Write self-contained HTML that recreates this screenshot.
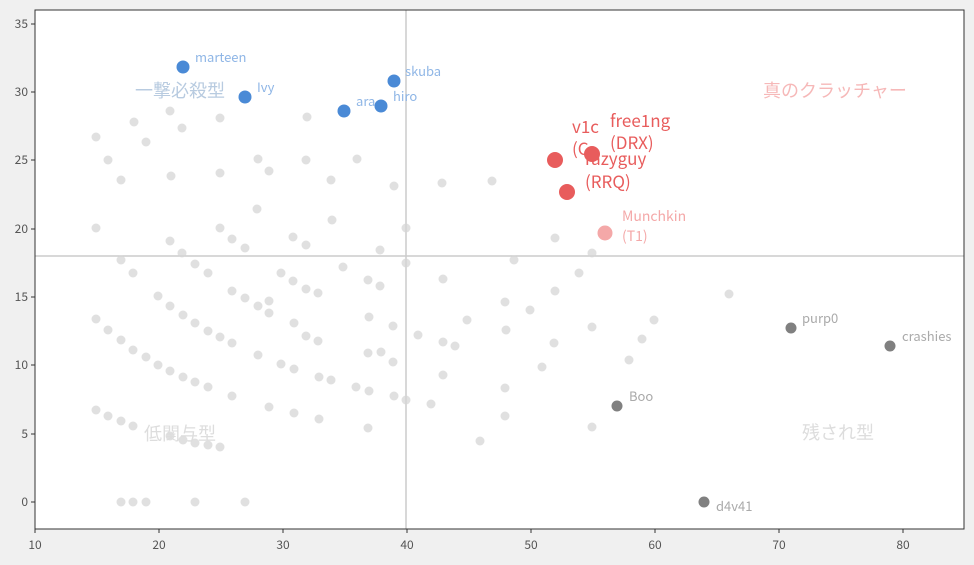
<!DOCTYPE html>
<html><head><meta charset="utf-8"><style>
body{margin:0;background:#f0f0f0;}
svg{display:block;font-family:"Noto Sans CJK JP","Liberation Sans",sans-serif;}
</style></head><body>
<svg width="974" height="565" viewBox="0 0 974 565">
<rect x="0" y="0" width="974" height="565" fill="#f0f0f0"/>
<rect x="35" y="10" width="929" height="519" fill="#fff"/>
<line x1="406" y1="10" x2="406" y2="529" stroke="#ccc" stroke-width="1.5"/>
<line x1="35" y1="256" x2="964" y2="256" stroke="#ccc" stroke-width="1.5"/>
<g fill="#d6d6d6" opacity="0.75">
<circle cx="96" cy="137" r="4.5"/><circle cx="134" cy="122" r="4.5"/><circle cx="146" cy="142" r="4.5"/><circle cx="170" cy="111" r="4.5"/><circle cx="182" cy="128" r="4.5"/><circle cx="220" cy="118" r="4.5"/><circle cx="307" cy="117" r="4.5"/><circle cx="108" cy="160" r="4.5"/><circle cx="121" cy="180" r="4.5"/><circle cx="171" cy="176" r="4.5"/><circle cx="220" cy="173" r="4.5"/><circle cx="306" cy="160" r="4.5"/><circle cx="258" cy="159" r="4.5"/><circle cx="269" cy="171" r="4.5"/><circle cx="331" cy="180" r="4.5"/><circle cx="357" cy="159" r="4.5"/><circle cx="394" cy="186" r="4.5"/><circle cx="442" cy="183" r="4.5"/><circle cx="492" cy="181" r="4.5"/><circle cx="257" cy="209" r="4.5"/><circle cx="96" cy="228" r="4.5"/><circle cx="170" cy="241" r="4.5"/><circle cx="220" cy="228" r="4.5"/><circle cx="232" cy="239" r="4.5"/><circle cx="245" cy="248" r="4.5"/><circle cx="182" cy="253" r="4.5"/><circle cx="293" cy="237" r="4.5"/><circle cx="306" cy="245" r="4.5"/><circle cx="332" cy="220" r="4.5"/><circle cx="406" cy="228" r="4.5"/><circle cx="380" cy="250" r="4.5"/><circle cx="555" cy="238" r="4.5"/>
<circle cx="121" cy="260" r="4.5"/><circle cx="133" cy="273" r="4.5"/><circle cx="195" cy="264" r="4.5"/><circle cx="208" cy="273" r="4.5"/><circle cx="343" cy="267" r="4.5"/><circle cx="368" cy="280" r="4.5"/><circle cx="380" cy="286" r="4.5"/><circle cx="406" cy="263" r="4.5"/><circle cx="443" cy="279" r="4.5"/><circle cx="514" cy="260" r="4.5"/><circle cx="555" cy="291" r="4.5"/><circle cx="579" cy="273" r="4.5"/><circle cx="592" cy="253" r="4.5"/><circle cx="232" cy="291" r="4.5"/><circle cx="245" cy="298" r="4.5"/><circle cx="258" cy="306" r="4.5"/><circle cx="269" cy="301" r="4.5"/><circle cx="281" cy="273" r="4.5"/><circle cx="293" cy="281" r="4.5"/><circle cx="306" cy="289" r="4.5"/><circle cx="318" cy="293" r="4.5"/><circle cx="158" cy="296" r="4.5"/><circle cx="170" cy="306" r="4.5"/><circle cx="183" cy="315" r="4.5"/><circle cx="195" cy="323" r="4.5"/><circle cx="208" cy="331" r="4.5"/><circle cx="220" cy="337" r="4.5"/><circle cx="232" cy="343" r="4.5"/><circle cx="96" cy="319" r="4.5"/><circle cx="108" cy="330" r="4.5"/><circle cx="121" cy="340" r="4.5"/><circle cx="133" cy="350" r="4.5"/><circle cx="146" cy="357" r="4.5"/><circle cx="158" cy="365" r="4.5"/><circle cx="170" cy="371" r="4.5"/><circle cx="183" cy="377" r="4.5"/><circle cx="195" cy="382" r="4.5"/><circle cx="208" cy="387" r="4.5"/><circle cx="258" cy="355" r="4.5"/><circle cx="269" cy="313" r="4.5"/><circle cx="294" cy="323" r="4.5"/><circle cx="306" cy="336" r="4.5"/><circle cx="318" cy="341" r="4.5"/><circle cx="369" cy="317" r="4.5"/><circle cx="368" cy="353" r="4.5"/><circle cx="381" cy="352" r="4.5"/><circle cx="393" cy="326" r="4.5"/><circle cx="418" cy="335" r="4.5"/><circle cx="443" cy="342" r="4.5"/><circle cx="455" cy="346" r="4.5"/><circle cx="467" cy="320" r="4.5"/><circle cx="505" cy="302" r="4.5"/><circle cx="530" cy="310" r="4.5"/><circle cx="554" cy="343" r="4.5"/><circle cx="592" cy="327" r="4.5"/><circle cx="642" cy="339" r="4.5"/><circle cx="654" cy="320" r="4.5"/><circle cx="729" cy="294" r="4.5"/><circle cx="506" cy="330" r="4.5"/><circle cx="542" cy="367" r="4.5"/><circle cx="629" cy="360" r="4.5"/><circle cx="443" cy="375" r="4.5"/><circle cx="393" cy="362" r="4.5"/><circle cx="281" cy="364" r="4.5"/><circle cx="294" cy="369" r="4.5"/><circle cx="319" cy="377" r="4.5"/><circle cx="331" cy="380" r="4.5"/><circle cx="356" cy="387" r="4.5"/><circle cx="369" cy="391" r="4.5"/><circle cx="232" cy="396" r="4.5"/><circle cx="269" cy="407" r="4.5"/><circle cx="294" cy="413" r="4.5"/><circle cx="319" cy="419" r="4.5"/><circle cx="394" cy="396" r="4.5"/><circle cx="406" cy="400" r="4.5"/><circle cx="431" cy="404" r="4.5"/><circle cx="368" cy="428" r="4.5"/><circle cx="480" cy="441" r="4.5"/><circle cx="505" cy="416" r="4.5"/><circle cx="505" cy="388" r="4.5"/><circle cx="592" cy="427" r="4.5"/><circle cx="96" cy="410" r="4.5"/><circle cx="108" cy="416" r="4.5"/><circle cx="121" cy="421" r="4.5"/><circle cx="133" cy="426" r="4.5"/><circle cx="170" cy="436" r="4.5"/><circle cx="183" cy="440" r="4.5"/><circle cx="195" cy="443" r="4.5"/><circle cx="208" cy="445" r="4.5"/><circle cx="220" cy="447" r="4.5"/><circle cx="121" cy="502" r="4.5"/><circle cx="133" cy="502" r="4.5"/><circle cx="146" cy="502" r="4.5"/><circle cx="195" cy="502" r="4.5"/><circle cx="245" cy="502" r="4.5"/>
</g>
<g font-size="18" fill="#ddd">
<text x="135" y="97" fill="#b8cbe0">一撃必殺型</text>
<text x="763" y="97" fill="#f6b8b8">真のクラッチャー</text>
<text x="144" y="440">低関与型</text>
<text x="802" y="439">残され型</text>
</g>
<g fill="#4a8ad6">
<circle cx="183" cy="67" r="6.5"/><circle cx="245" cy="97" r="6.5"/><circle cx="344" cy="111" r="6.5"/><circle cx="381" cy="106" r="6.5"/><circle cx="394" cy="81" r="6.5"/>
</g>
<g font-size="13" fill="#8fb6e6">
<text x="195" y="62">marteen</text><text x="257" y="92">Ivy</text><text x="356" y="106">ara</text><text x="393" y="101">hiro</text><text x="405" y="76">skuba</text>
</g>
<g fill="#e85c5c">
<circle cx="555" cy="160" r="8"/><circle cx="592" cy="154" r="8"/><circle cx="567" cy="192" r="8"/>
</g>
<circle cx="605" cy="233" r="7.5" fill="#f4a8a8"/>
<g font-size="17" fill="#e85c5c">
<text x="572" y="133">v1c</text><text x="572" y="155">(C</text>
<text x="610" y="127">free1ng</text><text x="610" y="149">(DRX)</text>
<text x="585" y="165">razyguy</text><text x="585" y="188">(RRQ)</text>
</g>
<g font-size="14" fill="#f4a8a8"><text x="622" y="221">Munchkin</text><text x="622" y="241">(T1)</text></g>
<g fill="#808080">
<circle cx="791" cy="328" r="5.5"/><circle cx="890" cy="346" r="5.5"/><circle cx="617" cy="406" r="5.5"/><circle cx="704" cy="502" r="5.5"/>
</g>
<g font-size="13" fill="#aaa">
<text x="802" y="323">purp0</text><text x="902" y="341">crashies</text><text x="629" y="401">Boo</text><text x="716" y="511">d4v41</text>
</g>
<rect x="35" y="10" width="929" height="519" fill="none" stroke="#333" stroke-width="1"/>
<g font-size="12" fill="#555" text-anchor="middle">
<text x="35" y="549">10</text><text x="159" y="549">20</text><text x="283" y="549">30</text><text x="407" y="549">40</text><text x="531" y="549">50</text><text x="655" y="549">60</text><text x="779" y="549">70</text><text x="903" y="549">80</text>
</g>
<g stroke="#333"><line x1="35" y1="529" x2="35" y2="533"/><line x1="159" y1="529" x2="159" y2="533"/><line x1="283" y1="529" x2="283" y2="533"/><line x1="407" y1="529" x2="407" y2="533"/><line x1="531" y1="529" x2="531" y2="533"/><line x1="655" y1="529" x2="655" y2="533"/><line x1="779" y1="529" x2="779" y2="533"/><line x1="903" y1="529" x2="903" y2="533"/>
<line x1="31" y1="502" x2="35" y2="502"/><line x1="31" y1="434" x2="35" y2="434"/><line x1="31" y1="365" x2="35" y2="365"/><line x1="31" y1="297" x2="35" y2="297"/><line x1="31" y1="229" x2="35" y2="229"/><line x1="31" y1="160" x2="35" y2="160"/><line x1="31" y1="92" x2="35" y2="92"/><line x1="31" y1="24" x2="35" y2="24"/></g>
<g font-size="12" fill="#555" text-anchor="end">
<text x="28" y="506">0</text><text x="28" y="438">5</text><text x="28" y="369">10</text><text x="28" y="301">15</text><text x="28" y="233">20</text><text x="28" y="164">25</text><text x="28" y="96">30</text><text x="28" y="28">35</text>
</g>
</svg>
</body></html>
